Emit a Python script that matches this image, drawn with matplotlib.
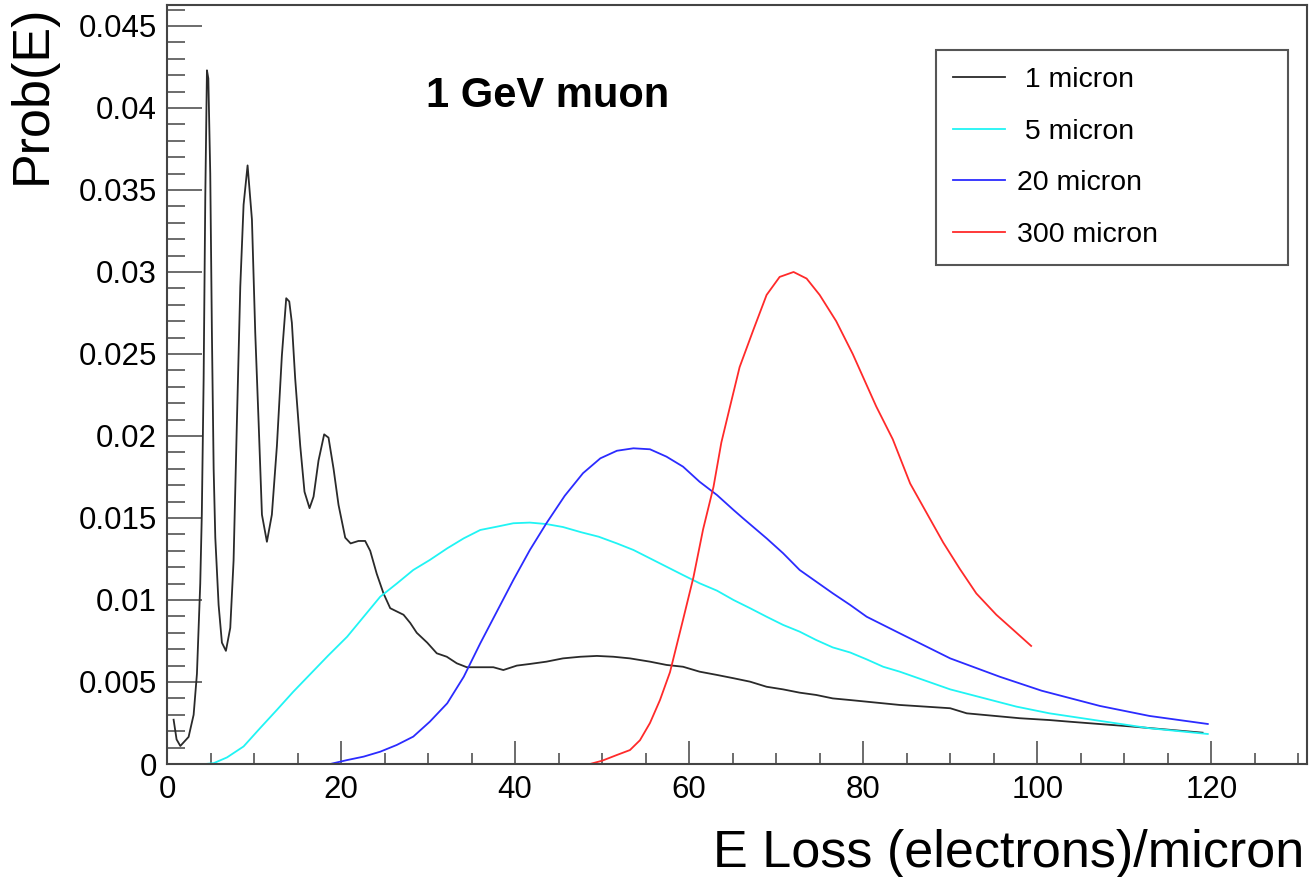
import matplotlib
matplotlib.use("Agg")
import matplotlib.pyplot as plt
from matplotlib.ticker import MultipleLocator, FuncFormatter

plt.rcParams["font.family"] = ["Liberation Sans", "DejaVu Sans"]

# Energy-loss distributions for a 1 GeV muon in silicon layers of different thickness
x_1um = [0.76, 1.1, 1.53, 2.48, 3.06, 3.44, 3.82, 4.0, 4.21, 4.4, 4.59, 4.75, 4.97,
         5.16, 5.36, 5.55, 5.93, 6.31, 6.77, 7.27, 7.65, 8.03, 8.42, 8.8, 9.26, 9.76,
         10.14, 10.53, 10.91, 11.48, 12.05, 12.63, 13.2, 13.7, 14.05, 14.35, 14.73,
         15.31, 15.8, 16.38, 16.84, 17.41, 18.06, 18.56, 19.14, 19.71, 20.48, 21.1,
         22.0, 22.77, 23.35, 24.1, 24.88, 25.65, 26.41, 27.18, 27.95, 28.7, 29.9,
         31.0, 32.15, 33.3, 34.45, 36.0, 37.5, 38.65, 40.2, 41.7, 43.6, 45.5, 47.5,
         49.4, 51.3, 53.2, 55.5, 57.4, 59.3, 61.2, 63.2, 65.1, 67.0, 68.9, 70.8,
         72.7, 74.6, 76.5, 78.5, 80.4, 84.2, 90.0, 91.9, 98.0, 101.4, 103.7, 111.0,
         119.0]
y_1um = [0.0027, 0.0015, 0.0011, 0.00165, 0.003, 0.0055, 0.011, 0.0152, 0.0235,
         0.0346, 0.0423, 0.0418, 0.036, 0.0263, 0.018, 0.0138, 0.0097, 0.0074, 0.0069,
         0.0083, 0.0124, 0.0208, 0.0291, 0.0341, 0.0365, 0.0332, 0.0263, 0.0208,
         0.0152, 0.01355, 0.0152, 0.0194, 0.0249, 0.0284, 0.0282, 0.0269, 0.0235,
         0.0194, 0.0166, 0.0156, 0.0163, 0.0185, 0.0201, 0.0199, 0.018, 0.0158,
         0.0138, 0.01345, 0.0136, 0.0136, 0.013, 0.0116, 0.0104, 0.0095, 0.0093,
         0.0091, 0.0086, 0.0080, 0.0074, 0.00675, 0.00654, 0.00614, 0.0059, 0.0059,
         0.0059, 0.00573, 0.0060, 0.0061, 0.00624, 0.00644, 0.00654, 0.00659, 0.00654,
         0.00644, 0.00624, 0.00604, 0.00593, 0.00563, 0.00543, 0.00523, 0.00502,
         0.00471, 0.00455, 0.00435, 0.00421, 0.0040, 0.0039, 0.0038, 0.0036, 0.0034,
         0.00309, 0.00279, 0.00268, 0.00258, 0.00228, 0.00191]

x_5um = [4.4, 5.36, 6.89, 8.8, 10.72, 12.63, 14.5, 16.5, 18.5, 20.7, 22.6, 24.5, 26.4,
         28.3, 30.2, 32.2, 34.1, 36.0, 37.9, 39.8, 41.7, 43.6, 45.5, 47.6, 49.6, 51.7,
         53.6, 55.5, 57.4, 59.3, 61.2, 63.2, 65.1, 67.0, 68.9, 70.8, 72.7, 74.6, 76.5,
         78.5, 80.4, 82.3, 84.2, 90.0, 97.6, 101.4, 109.1, 112.9, 119.6]
y_5um = [0.0, 0.00005, 0.0004, 0.00107, 0.0022, 0.0033, 0.0044, 0.0055, 0.0066, 0.00776,
         0.00898, 0.0102, 0.011, 0.01183, 0.01244, 0.01315, 0.01376, 0.01427, 0.01447,
         0.01468, 0.01472, 0.01463, 0.01445, 0.01413, 0.01386, 0.01345, 0.01305,
         0.01254, 0.01203, 0.01152, 0.01102, 0.01057, 0.0100, 0.0095, 0.00898, 0.00848,
         0.00807, 0.00756, 0.00711, 0.0068, 0.00638, 0.00593, 0.00563, 0.00455, 0.0035,
         0.00309, 0.00248, 0.00218, 0.00183]

x_20um = [18.75, 20.7, 22.6, 24.5, 26.4, 28.3, 30.2, 32.2, 34.1, 36.0, 37.9, 39.8, 41.7,
          43.6, 45.7, 47.8, 49.8, 51.7, 53.6, 55.5, 57.4, 59.3, 61.2, 63.2, 65.1, 66.2,
          68.9, 70.8, 72.7, 74.6, 76.5, 78.5, 80.4, 84.2, 90.0, 95.7, 100.5, 107.2,
          112.9, 119.6]
y_20um = [0.0, 0.00024, 0.00045, 0.00075, 0.00116, 0.00167, 0.00258, 0.0037, 0.00532,
          0.00736, 0.00929, 0.01122, 0.01305, 0.01468, 0.01635, 0.01773, 0.01864,
          0.0191, 0.01925, 0.01919, 0.01874, 0.01813, 0.01721, 0.0164, 0.01549, 0.01498,
          0.01376, 0.01285, 0.01183, 0.01112, 0.01041, 0.0097, 0.00898, 0.00797,
          0.00644, 0.00532, 0.00447, 0.00354, 0.00293, 0.00244]

x_300um = [48.6, 50.0, 51.7, 53.2, 54.35, 55.5, 56.65, 57.8, 59.3, 60.5, 61.6, 62.8,
           63.7, 64.7, 65.8, 67.4, 68.9, 70.4, 72.0, 73.5, 75.0, 76.9, 78.8, 81.5, 83.4,
           85.4, 87.3, 89.2, 91.1, 93.0, 95.3, 97.2, 99.3]
y_300um = [0.0, 0.0002, 0.00055, 0.00085, 0.00145, 0.0025, 0.0039, 0.0056, 0.0088,
           0.0114, 0.0143, 0.0169, 0.0196, 0.0218, 0.0242, 0.0265, 0.0286, 0.0297,
           0.0300, 0.0296, 0.0286, 0.0270, 0.0250, 0.0218, 0.0198, 0.0171, 0.0153,
           0.0135, 0.0119, 0.0104, 0.0091, 0.0082, 0.0072]

labels = [" 1 micron", " 5 micron", "20 micron", "300 micron"]
colors = ["#2a2a2a", "#20f4f4", "#2b2bff", "#ff2a2a"]

fig = plt.figure(figsize=(13.09, 8.77), dpi=100)
ax = fig.add_axes([167 / 1309, 113 / 877, 1140 / 1309, 759 / 877])

series = [(x_1um, y_1um), (x_5um, y_5um), (x_20um, y_20um), (x_300um, y_300um)]
for (xs, ys), lab, col in zip(series, labels, colors):
    ax.plot(xs, ys, color=col, lw=1.3, label=lab)

ax.set_xlim(0, 131)
ax.set_ylim(0, 0.04628)

ax.xaxis.set_major_locator(MultipleLocator(20))
ax.xaxis.set_minor_locator(MultipleLocator(5))
ax.yaxis.set_major_locator(MultipleLocator(0.005))
ax.yaxis.set_minor_locator(MultipleLocator(0.001))
ax.yaxis.set_major_formatter(FuncFormatter(lambda v, p: "%g" % round(v, 4)))
ax.xaxis.set_major_formatter(FuncFormatter(lambda v, p: "%g" % v))

edge = "#444444"
for s in ax.spines.values():
    s.set_linewidth(1.5)
    s.set_color(edge)

ax.tick_params(axis="both", which="both", direction="in", color=edge, width=1.1,
               labelsize=22.5, labelcolor="black", top=False, right=False)
ax.tick_params(axis="y", which="major", length=25.5, pad=7.2)
ax.tick_params(axis="y", which="minor", length=12.7)
ax.tick_params(axis="x", which="major", length=16.3, pad=8)
ax.tick_params(axis="x", which="minor", length=7.9)

ax.set_xlabel("E Loss (electrons)/micron", fontsize=37.5, ha="right", va="baseline")
ax.xaxis.set_label_coords(0.998, -0.1357)
ax.set_ylabel("Prob(E)", fontsize=37.5, ha="right", va="bottom")
ax.yaxis.set_label_coords(-0.097, 1.0)

ax.text(0.2275, 0.8656, "1 GeV muon", transform=ax.transAxes, fontsize=30,
        fontweight="bold", ha="left", va="baseline")

leg_top = 1 - 50 / 877
leg = ax.legend(loc="upper left",
                bbox_to_anchor=(936 / 1309, leg_top - 0.01, 352 / 1309, 0.01),
                bbox_transform=fig.transFigure, mode="expand", borderaxespad=0,
                fontsize=20.5, handlelength=1.82, handletextpad=0.42,
                labelspacing=0.9, borderpad=0.6, frameon=True, fancybox=False)
frame = leg.get_frame()
frame.set_edgecolor("#555555")
frame.set_linewidth(1.5)
frame.set_alpha(1)

fig.savefig("out.png", dpi=100, facecolor="white")
